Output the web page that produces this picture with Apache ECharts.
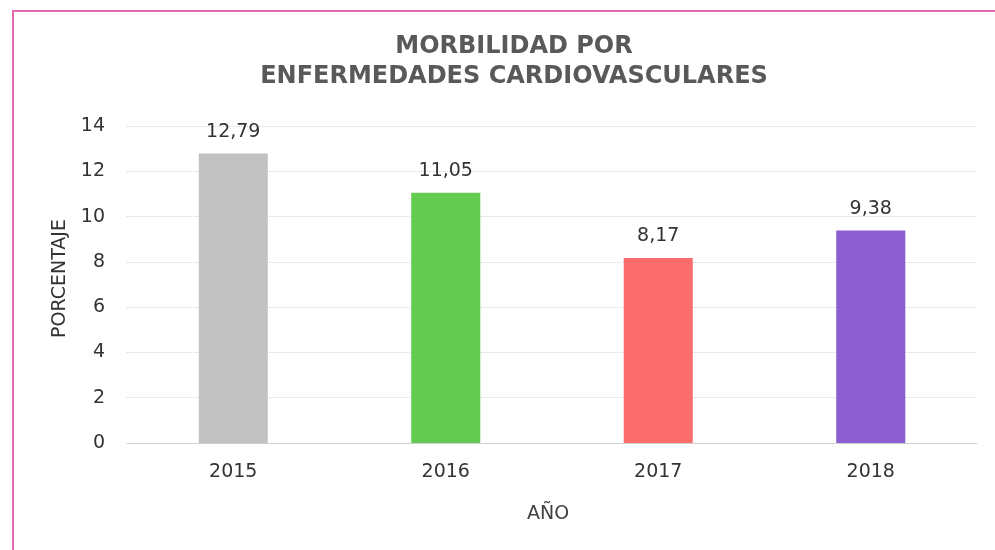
<!DOCTYPE html>
<html>
<head>
<meta charset="utf-8">
<script src="https://cdn.jsdelivr.net/npm/echarts@6/dist/echarts.min.js"></script>
<style>
  html, body { margin: 0; padding: 0; background: #fff; }
  #frame {
    position: absolute; left: 12px; top: 10px; width: 990px; height: 545px;
    border-top: 2px solid #e46aae; border-left: 2px solid #e46aae;
  }
  #chart { position: absolute; left: 0; top: 0; width: 995px; height: 550px; }
</style>
</head>
<body>
<div id="frame"></div>
<div id="chart"></div>
<script>
// datos
const years = ['2015', '2016', '2017', '2018']
const values = [12.79, 11.05, 8.17, 9.38]
const barColors = ['#c2c2c2', '#64cb52', '#fb6d6d', '#8b5fcf']

const chart = echarts.init(document.getElementById('chart'))

chart.setOption({
  animation: false,
  textStyle: { fontFamily: 'DejaVu Sans, sans-serif' },
  title: {
    text: 'MORBILIDAD POR\nENFERMEDADES CARDIOVASCULARES',
    left: 509,
    top: 27,
    textAlign: 'center',
    textStyle: { fontSize: 24, fontWeight: 'bold', color: '#595959', lineHeight: 30 },
  },
  grid: { left: 127, right: 18, top: 126, bottom: 107 },
  xAxis: {
    type: 'category',
    data: years,
    name: 'AÑO',
    nameLocation: 'middle',
    nameGap: 62,
    nameTextStyle: { fontSize: 19, color: '#404040', padding: [0, 8, 0, 0] },
    axisLine: { lineStyle: { color: '#d0d0d0' } },
    axisTick: { show: false },
    axisLabel: { fontSize: 19, color: '#333', margin: 20 },
  },
  yAxis: {
    type: 'value',
    min: 0,
    max: 14,
    interval: 2,
    name: 'PORCENTAJE',
    nameLocation: 'middle',
    nameGap: 52,
    nameRotate: 90,
    nameTextStyle: { fontSize: 19, color: '#333', padding: [0, 0, 0, 12] },
    axisLine: { show: false },
    axisTick: { show: false },
    axisLabel: { fontSize: 19, color: '#333', margin: 22 },
    splitLine: { lineStyle: { color: '#d6d6d6', type: 'dotted' } },
  },
  series: [{
    type: 'bar',
    data: values.map((v, i) => ({ value: v, itemStyle: { color: barColors[i] } })),
    barWidth: '32.5%',
    label: {
      show: true,
      position: 'top',
      distance: 12,
      fontSize: 19,
      color: '#333',
      formatter: (p) => p.value.toFixed(2).replace('.', ','),
    },
  }],
})
</script>
</body>
</html>
